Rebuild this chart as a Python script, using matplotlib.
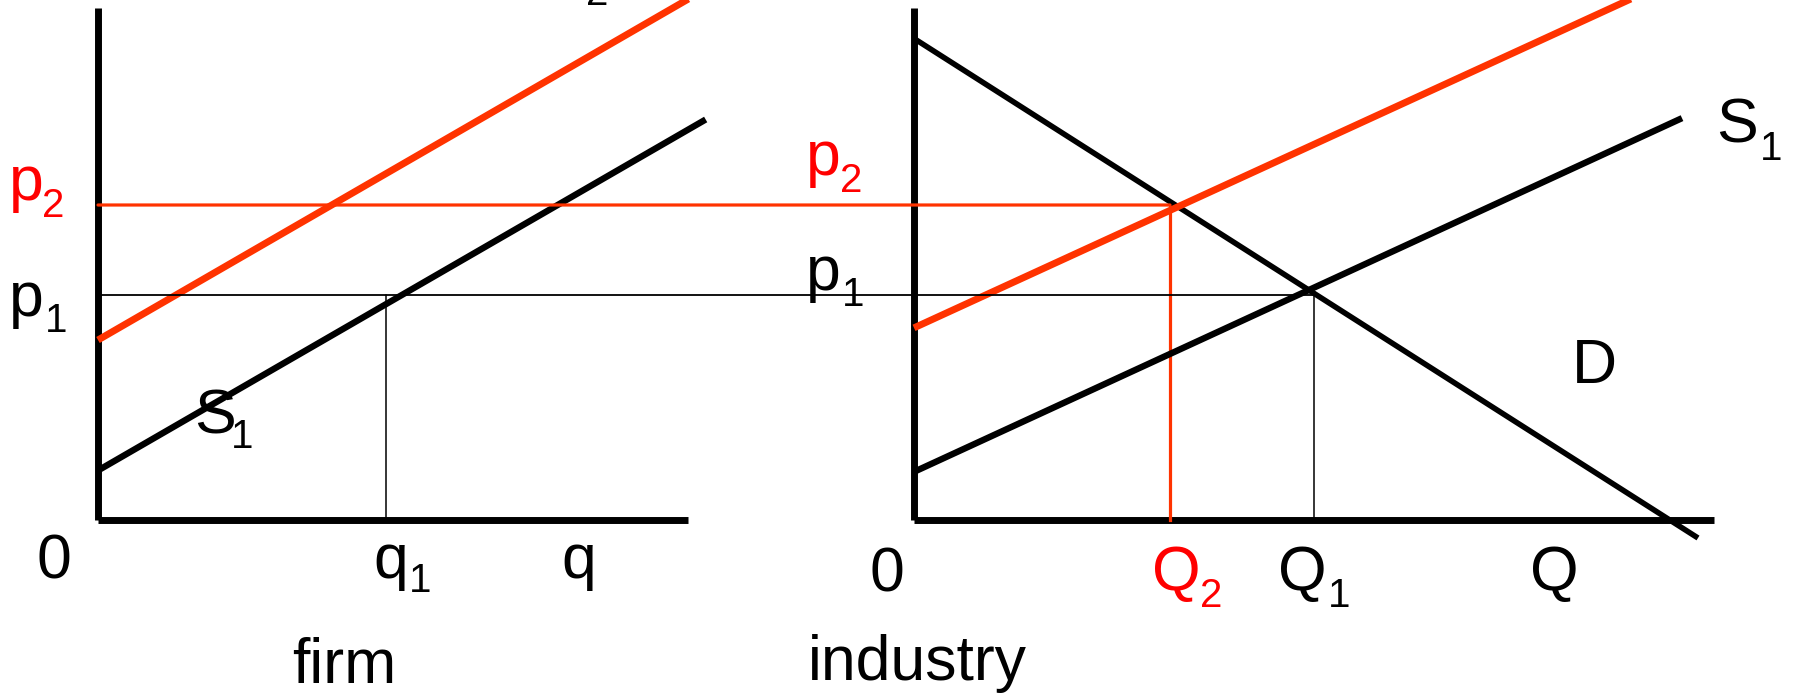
import matplotlib
matplotlib.use("Agg")
import matplotlib.pyplot as plt
from matplotlib.patches import ConnectionPatch

# ---------------- data ----------------
# firm panel (quantity q, price p)
p1 = 5.0
p2 = 7.0
q1 = 10.0
firm_axis_q_max = 20.5
price_axis_max = 11.38
firm_S1_q = [0.0, 21.1]
firm_S1_p = [1.1, 8.9]
firm_S2_q = [0.0, 21.1]
firm_S2_p = [4.0, 11.8]

# industry panel (quantity Q, price p)
Q1 = 10.0
Q2 = 6.4
ind_axis_Q_max = 20.0
ind_D_Q = [0.0, 19.6]
ind_D_p = [10.7, -0.4]
ind_S1_Q = [0.0, 19.2]
ind_S1_p = [1.07, 8.93]
ind_S2_Q = [0.0, 19.2]
ind_S2_p = [4.27, 12.1]

# ---------------- style ----------------
RED_LINE = "#FF3300"
RED_TEXT = "#FF0000"
FONT = "Liberation Sans"
BIG = 45
SUB = 29

W, H = 1794, 696
fig = plt.figure(figsize=(W / 100, H / 100), dpi=100)

# both panels are transparent axes covering the whole figure, with their own origin
PX_P = 45.0        # pixels per price unit
ORIG_Y = 520.0     # pixel row of the quantity axes

def make_axes(origin_x, px_per_q):
    ax = fig.add_axes([0, 0, 1, 1])
    ax.set_xlim(-origin_x / px_per_q, (W - origin_x) / px_per_q)
    ax.set_ylim(-(H - ORIG_Y) / PX_P, ORIG_Y / PX_P)
    ax.axis("off")
    ax.patch.set_alpha(0)
    return ax

axF = make_axes(98.0, 28.8)
axI = make_axes(914.0, 40.0)

def txt(ax, x, y, s, size=BIG, color="black"):
    ax.text(x, y, s, fontsize=size, family=FONT, color=color,
            ha="left", va="baseline", clip_on=False)

# ---------------- firm panel ----------------
axF.plot([0, 0], [0, price_axis_max], color="black", lw=5, solid_capstyle="butt")
axF.plot([0, firm_axis_q_max], [0, 0], color="black", lw=5, solid_capstyle="butt")
axF.plot([q1, q1], [0, p1], color="black", lw=1.1)
axF.plot(firm_S1_q, firm_S1_p, color="black", lw=4.6, solid_capstyle="butt")
axF.plot(firm_S2_q, firm_S2_p, color=RED_LINE, lw=5, solid_capstyle="butt")

# ---------------- industry panel ----------------
axI.plot([0, 0], [0, price_axis_max], color="black", lw=5, solid_capstyle="butt")
axI.plot([0, ind_axis_Q_max], [0, 0], color="black", lw=5, solid_capstyle="butt")
axI.plot([Q1, Q1], [0, p1], color="black", lw=1.1)
axI.plot([Q2, Q2], [0, p2], color=RED_LINE, lw=2.3)
axI.plot(ind_D_Q, ind_D_p, color="black", lw=4, solid_capstyle="butt")
axI.plot(ind_S1_Q, ind_S1_p, color="black", lw=4.6, solid_capstyle="butt")
axI.plot(ind_S2_Q, ind_S2_p, color=RED_LINE, lw=5, solid_capstyle="butt")

# price lines spanning from the firm axis to the industry equilibria
for price, qq, col, lw in [(p1, Q1, "black", 1.3), (p2, Q2, RED_LINE, 2.3)]:
    con = ConnectionPatch(xyA=(0, price), coordsA=axF.transData,
                          xyB=(qq, price), coordsB=axI.transData,
                          color=col, lw=lw)
    fig.add_artist(con)

# ---------------- labels: firm ----------------
txt(axF, -2.15, -1.29, "0")
txt(axF, 9.55, -1.29, "q")
txt(axF, 10.8, -1.6, "1", SUB)
txt(axF, 16.1, -1.29, "q")
txt(axF, 6.75, -3.62, "firm")
txt(axF, -3.1, 7.11, "p", color=RED_TEXT)
txt(axF, -1.95, 6.73, "2", SUB, RED_TEXT)
txt(axF, -3.1, 4.53, "p")
txt(axF, -1.85, 4.18, "1", SUB)
txt(axF, 3.35, 1.93, "S")
txt(axF, 4.6, 1.6, "1", SUB)
txt(axF, 16.5, 11.8, "S")
txt(axF, 16.95, 11.44, "2", SUB)

# ---------------- labels: industry ----------------
txt(axI, -1.1, -1.6, "0")
txt(axI, 5.95, -1.56, "Q", color=RED_TEXT)
txt(axI, 7.15, -1.93, "2", SUB, RED_TEXT)
txt(axI, 9.1, -1.56, "Q")
txt(axI, 10.35, -1.93, "1", SUB)
txt(axI, 15.4, -1.56, "Q")
txt(axI, -2.65, -3.56, "industry")
txt(axI, 16.45, 3.04, "D")
txt(axI, 20.05, 8.38, "S")
txt(axI, 21.15, 8.0, "1", SUB)
txt(axI, -2.7, 7.67, "p", color=RED_TEXT)
txt(axI, -1.85, 7.29, "2", SUB, RED_TEXT)
txt(axI, -2.7, 5.11, "p")
txt(axI, -1.8, 4.76, "1", SUB)

fig.savefig("out.png", dpi=100, facecolor="white")
